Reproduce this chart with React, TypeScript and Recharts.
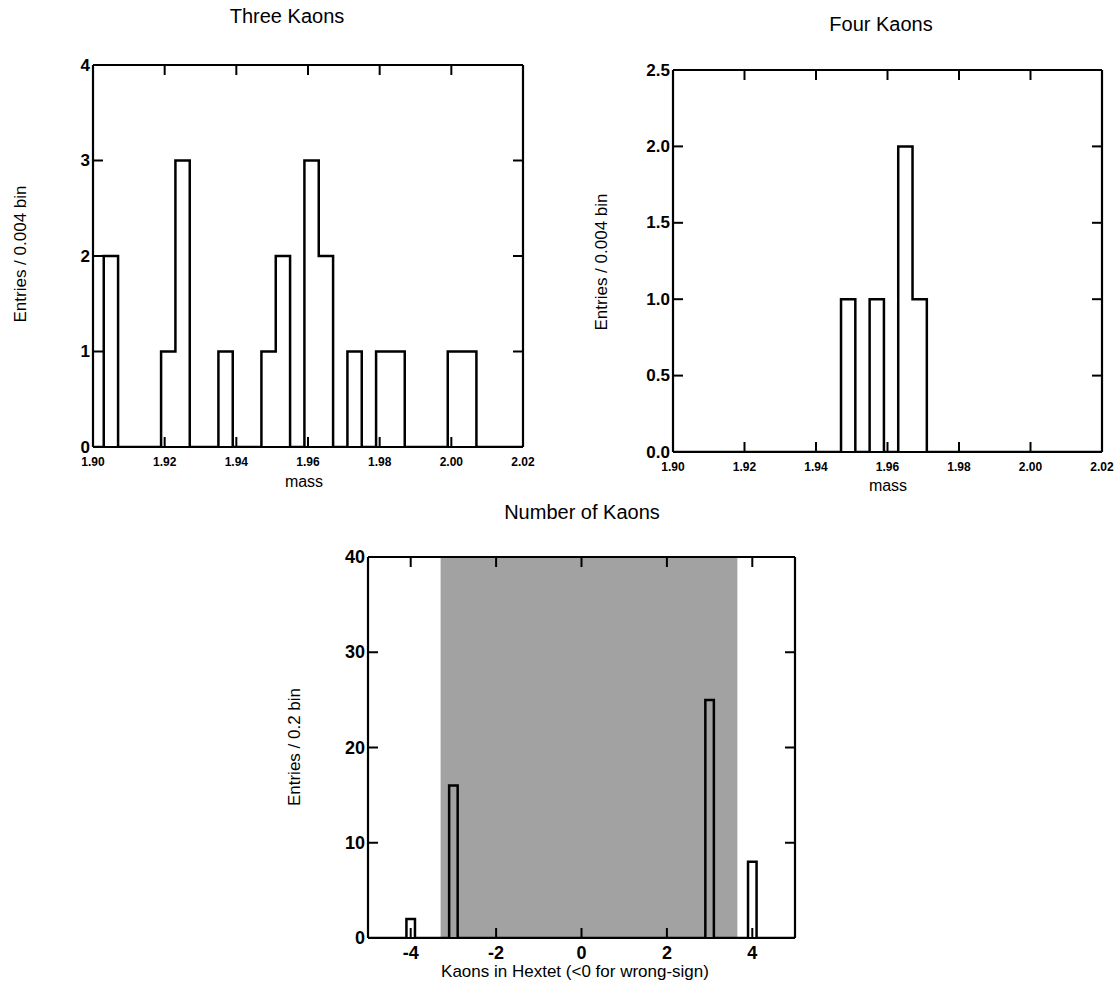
import React from 'react'
import { ComposedChart, Line, XAxis, YAxis, ReferenceArea } from 'recharts'

// mass histograms: 0.004 bins starting at 1.903
const massBinStart = 1.903
const massBinWidth = 0.004
const threeKaonCounts = [2, 0, 0, 0, 1, 3, 0, 0, 1, 0, 0, 1, 2, 0, 3, 2, 0, 1, 0, 1, 1, 0, 0, 0, 1, 1]
const fourKaonCounts = [0, 0, 0, 0, 0, 0, 0, 0, 0, 0, 0, 1, 0, 1, 0, 2, 1]
const massTicks = [1.9, 1.92, 1.94, 1.96, 1.98, 2.0, 2.02]
const threeYTicks = [0, 1, 2, 3, 4]
const fourYTicks = [0, 0.5, 1, 1.5, 2, 2.5]

// number of kaons: 0.2 bins centred on the integer counts
const kaonBinCenters = [-4, -3, 3, 4]
const kaonBinCounts = [2, 16, 25, 8]
const kaonBinWidth = 0.2
const kaonXTicks = [-4, -2, 0, 2, 4]
const kaonYTicks = [0, 10, 20, 30, 40]
const kaonShade = [-3.3, 3.65]

const FONT = '"Liberation Sans", Arial, Helvetica, sans-serif'
const TICK = 10

function massSteps(counts: number[]) {
  const pts = [{ x: 1.9, y: 0 }]
  counts.forEach((c, i) => pts.push({ x: massBinStart + i * massBinWidth, y: c }))
  pts.push({ x: massBinStart + counts.length * massBinWidth, y: 0 })
  pts.push({ x: 2.02, y: 0 })
  return pts
}

function kaonSteps() {
  const pts = [{ x: -5, y: 0 }]
  kaonBinCenters.forEach((c, i) => {
    pts.push({ x: c - kaonBinWidth / 2, y: kaonBinCounts[i] })
    pts.push({ x: c + kaonBinWidth / 2, y: 0 })
  })
  pts.push({ x: 5, y: 0 })
  return pts
}

const LeftTick = ({ x, y, payload, fontSize, fmt }: any) => (
  <g>
    <line x1={x} y1={y} x2={x + TICK} y2={y} stroke="#000" strokeWidth={2} />
    <text x={x - 3} y={y} textAnchor="end" dominantBaseline="central" fontSize={fontSize} fontWeight="bold" fontFamily={FONT} fill="#000">
      {fmt(payload.value)}
    </text>
  </g>
)

const RightTick = ({ x, y }: any) => (
  <line x1={x} y1={y} x2={x - TICK} y2={y} stroke="#000" strokeWidth={2} />
)

const TopTick = ({ x, y }: any) => (
  <line x1={x} y1={y} x2={x} y2={y + TICK} stroke="#000" strokeWidth={2} />
)

const BottomTick = ({ x, y, payload, fontSize, dy, fmt }: any) => (
  <g>
    <line x1={x} y1={y} x2={x} y2={y - TICK} stroke="#000" strokeWidth={2} />
    <text x={x} y={y + dy} textAnchor="middle" dominantBaseline="central" fontSize={fontSize} fontWeight="bold" fontFamily={FONT} fill="#000">
      {fmt(payload.value)}
    </text>
  </g>
)

// axes on all four sides, ticks pointing inwards (1px boxes so they get drawn)
function Frame({ xDomain, yDomain, xTicks, yTicks, xFont, yFont, xDy, xFmt, yFmt }: any) {
  const common = {
    type: 'number' as const,
    allowDataOverflow: true,
    tickSize: 0,
    tickMargin: 0,
    tickLine: false,
    axisLine: { stroke: '#000', strokeWidth: 2.2 },
    interval: 0 as const,
  }
  return [
    <XAxis key="xb" xAxisId="bottom" dataKey="x" domain={xDomain} ticks={xTicks} height={1} {...common}
      tick={<BottomTick fontSize={xFont} dy={xDy} fmt={xFmt} />} />,
    <XAxis key="xt" xAxisId="top" orientation="top" dataKey="x" domain={xDomain} ticks={xTicks} height={1} {...common}
      tick={<TopTick />} />,
    <YAxis key="yl" yAxisId="left" domain={yDomain} ticks={yTicks} width={1} {...common}
      tick={<LeftTick fontSize={yFont} fmt={yFmt} />} />,
    <YAxis key="yr" yAxisId="right" orientation="right" domain={yDomain} ticks={yTicks} width={1} {...common}
      tick={<RightTick />} />,
  ]
}

function Text({ x, y, size, rotate, children }: any) {
  return (
    <div
      style={{
        position: 'absolute',
        left: x,
        top: y,
        transform: `translate(-50%, -50%)${rotate ? ' rotate(-90deg)' : ''}`,
        fontFamily: FONT,
        fontSize: size,
        whiteSpace: 'nowrap',
        color: '#000',
      }}
    >
      {children}
    </div>
  )
}

function MassHist({ left, counts, yDomain, yTicks, yFmt, width, margin }: any) {
  return (
    <div style={{ position: 'absolute', left, top: 0 }}>
      <ComposedChart width={width} height={500} data={massSteps(counts)} margin={margin}>
        {Frame({
          xDomain: [1.9, 2.02],
          yDomain,
          xTicks: massTicks,
          yTicks,
          xFont: 12,
          yFont: 17,
          xDy: 15,
          xFmt: (v: number) => v.toFixed(2),
          yFmt,
        })}
        <Line
          xAxisId="bottom"
          yAxisId="left"
          type="stepAfter"
          dataKey="y"
          stroke="#000"
          strokeWidth={2.5}
          dot={false}
          isAnimationActive={false}
        />
      </ComposedChart>
    </div>
  )
}

export default function App() {
  return (
    <div style={{ position: 'absolute', left: 0, top: 0, width: 1115, height: 989, background: '#fff', overflow: 'hidden' }}>
      <MassHist
        left={0}
        counts={threeKaonCounts}
        yDomain={[0, 4]}
        yTicks={threeYTicks}
        yFmt={(v: number) => String(v)}
        width={560}
        margin={{ top: 64, right: 36, bottom: 52, left: 92 }}
      />
      <MassHist
        left={580}
        counts={fourKaonCounts}
        yDomain={[0, 2.5]}
        yTicks={fourYTicks}
        yFmt={(v: number) => v.toFixed(1)}
        width={535}
        margin={{ top: 69, right: 12, bottom: 47, left: 92 }}
      />

      <div style={{ position: 'absolute', left: 260, top: 530 }}>
        <ComposedChart width={560} height={459} data={kaonSteps()} margin={{ top: 26, right: 24, bottom: 50, left: 107 }}>
          <ReferenceArea
            xAxisId="bottom"
            yAxisId="left"
            x1={kaonShade[0]}
            x2={kaonShade[1]}
            y1={0}
            y2={40}
            fill="#a2a2a2"
            fillOpacity={1}
            stroke="none"
          />
          {Frame({
            xDomain: [-5, 5],
            yDomain: [0, 40],
            xTicks: kaonXTicks,
            yTicks: kaonYTicks,
            xFont: 18,
            yFont: 18,
            xDy: 15,
            xFmt: (v: number) => String(v),
            yFmt: (v: number) => String(v),
          })}
          <Line
            xAxisId="bottom"
            yAxisId="left"
            type="stepAfter"
            dataKey="y"
            stroke="#000"
            strokeWidth={2.5}
            dot={false}
            isAnimationActive={false}
          />
        </ComposedChart>
      </div>

      <Text x={287} y={16} size={20}>Three Kaons</Text>
      <Text x={881} y={24} size={20}>Four Kaons</Text>
      <Text x={582} y={512} size={20}>Number of Kaons</Text>
      <Text x={21} y={254} size={17} rotate>Entries / 0.004 bin</Text>
      <Text x={602} y={262} size={17} rotate>Entries / 0.004 bin</Text>
      <Text x={295} y={747} size={17} rotate>Entries / 0.2 bin</Text>
      <Text x={304} y={482} size={16}>mass</Text>
      <Text x={888} y={486} size={16}>mass</Text>
      <Text x={575} y={972} size={17}>Kaons in Hextet (&lt;0 for wrong-sign)</Text>
    </div>
  )
}
